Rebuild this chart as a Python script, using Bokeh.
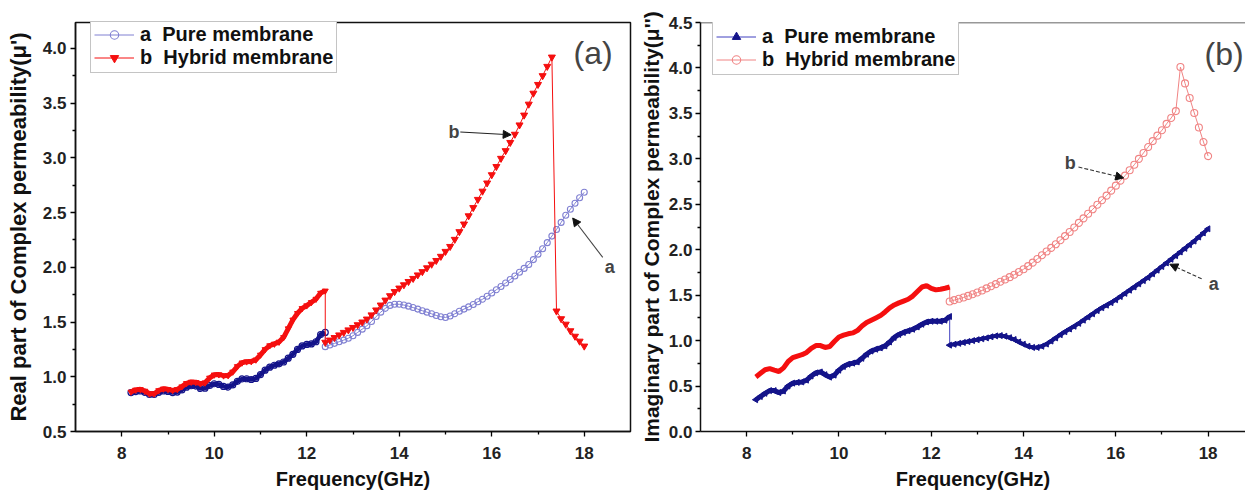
import numpy as np
from bokeh.plotting import figure
from bokeh.layouts import row
from bokeh.models import (Range1d, Legend, LegendItem, Arrow, NormalHead, Span,
                          Label, FixedTicker, PrintfTickFormatter)
from bokeh.embed import file_html
from bokeh.resources import INLINE

# ---------------- data ----------------
FREQ_X = [8.2, 8.3, 8.4, 8.5, 8.6, 8.7, 8.8, 8.9, 9.0, 9.1,
          9.2, 9.3, 9.4, 9.5, 9.6, 9.7, 9.8, 9.9, 10.0, 10.1,
          10.2, 10.3, 10.4, 10.5, 10.6, 10.7, 10.8, 10.9, 11.0, 11.1,
          11.2, 11.3, 11.4, 11.5, 11.6, 11.7, 11.8, 11.9, 12.0, 12.1,
          12.2, 12.3, 12.4]
FREQ_KU = [12.4, 12.5, 12.6, 12.7, 12.8, 12.9, 13.0, 13.1, 13.2, 13.3,
           13.4, 13.5, 13.6, 13.7, 13.8, 13.9, 14.0, 14.1, 14.2, 14.3,
           14.4, 14.5, 14.6, 14.7, 14.8, 14.9, 15.0, 15.1, 15.2, 15.3,
           15.4, 15.5, 15.6, 15.7, 15.8, 15.9, 16.0, 16.1, 16.2, 16.3,
           16.4, 16.5, 16.6, 16.7, 16.8, 16.9, 17.0, 17.1, 17.2, 17.3,
           17.4, 17.5, 17.6, 17.7, 17.8, 17.9, 18.0]

# (a) real part
real_pure_x = [0.856, 0.865, 0.870, 0.858, 0.838, 0.838, 0.858, 0.870, 0.866, 0.856,
               0.860, 0.880, 0.905, 0.918, 0.915, 0.893, 0.895, 0.920, 0.936, 0.930,
               0.912, 0.906, 0.925, 0.958, 0.980, 0.982, 0.975, 0.985, 1.020, 1.060,
               1.088, 1.105, 1.118, 1.135, 1.170, 1.205, 1.250, 1.282, 1.295, 1.300,
               1.320, 1.385, 1.405]
real_pure_ku = [1.275, 1.290, 1.305, 1.320, 1.335, 1.352, 1.375, 1.405, 1.435, 1.466,
                1.505, 1.550, 1.590, 1.625, 1.652, 1.662, 1.662, 1.655, 1.645, 1.632,
                1.618, 1.603, 1.590, 1.575, 1.560, 1.548, 1.542, 1.555, 1.575, 1.598,
                1.618, 1.638, 1.660, 1.685, 1.708, 1.735, 1.765, 1.795, 1.825, 1.856,
                1.888, 1.920, 1.955, 1.990, 2.025, 2.070, 2.120, 2.170, 2.225, 2.285,
                2.345, 2.410, 2.475, 2.530, 2.585, 2.635, 2.685]
real_hyb_x = [0.862, 0.880, 0.885, 0.870, 0.845, 0.845, 0.875, 0.890, 0.885, 0.876,
              0.885, 0.910, 0.940, 0.952, 0.950, 0.937, 0.945, 0.990, 1.018, 1.020,
              1.010, 1.012, 1.045, 1.095, 1.128, 1.138, 1.140, 1.155, 1.200, 1.250,
              1.285, 1.300, 1.318, 1.360, 1.440, 1.520, 1.580, 1.625, 1.650, 1.680,
              1.710, 1.765, 1.785]
real_hyb_ku = [1.315, 1.335, 1.358, 1.382, 1.405, 1.428, 1.450, 1.475, 1.500, 1.527,
               1.565, 1.610, 1.655, 1.700, 1.740, 1.778, 1.810, 1.840, 1.870, 1.898,
               1.930, 1.960, 1.995, 2.028, 2.062, 2.100, 2.145, 2.190, 2.255, 2.325,
               2.395, 2.470, 2.545, 2.620, 2.695, 2.770, 2.845, 2.920, 2.995, 3.065,
               3.140, 3.215, 3.300, 3.390, 3.490, 3.590, 3.670, 3.750, 3.835, 3.920,
               1.600, 1.530, 1.480, 1.420, 1.370, 1.325, 1.280]

# (b) imaginary part
imag_pure_x = [0.350, 0.385, 0.420, 0.450, 0.450, 0.428, 0.445, 0.500, 0.532, 0.540,
               0.545, 0.565, 0.610, 0.645, 0.655, 0.625, 0.598, 0.620, 0.675, 0.715,
               0.740, 0.752, 0.765, 0.805, 0.850, 0.885, 0.905, 0.920, 0.942, 0.985,
               1.035, 1.068, 1.090, 1.108, 1.125, 1.150, 1.180, 1.205, 1.213, 1.213,
               1.213, 1.225, 1.265]
imag_pure_ku = [0.950, 0.960, 0.970, 0.980, 0.990, 1.000, 1.010, 1.020, 1.030, 1.042,
                1.052, 1.055, 1.048, 1.032, 1.012, 0.985, 0.960, 0.938, 0.925, 0.925,
                0.938, 0.962, 0.995, 1.030, 1.065, 1.098, 1.128, 1.158, 1.190, 1.225,
                1.260, 1.295, 1.330, 1.362, 1.390, 1.418, 1.450, 1.485, 1.520, 1.555,
                1.590, 1.625, 1.660, 1.695, 1.735, 1.775, 1.815, 1.855, 1.895, 1.935,
                1.975, 2.015, 2.055, 2.095, 2.140, 2.185, 2.230]
imag_hyb_x = [0.600, 0.640, 0.680, 0.692, 0.675, 0.660, 0.700, 0.770, 0.812, 0.830,
              0.845, 0.870, 0.915, 0.945, 0.945, 0.925, 0.935, 0.990, 1.040, 1.060,
              1.075, 1.085, 1.110, 1.160, 1.200, 1.225, 1.250, 1.275, 1.315, 1.360,
              1.392, 1.415, 1.435, 1.455, 1.490, 1.540, 1.590, 1.605, 1.575, 1.558,
              1.565, 1.576, 1.590]
imag_hyb_ku = [1.430, 1.445, 1.460, 1.475, 1.492, 1.510, 1.530, 1.552, 1.575, 1.598,
               1.622, 1.648, 1.672, 1.698, 1.725, 1.755, 1.785, 1.820, 1.858, 1.898,
               1.940, 1.980, 2.020, 2.060, 2.105, 2.150, 2.195, 2.245, 2.295, 2.345,
               2.395, 2.445, 2.495, 2.545, 2.595, 2.650, 2.705, 2.760, 2.815, 2.875,
               2.935, 3.000, 3.065, 3.130, 3.195, 3.255, 3.315, 3.385, 3.450, 3.525,
               4.010, 3.830, 3.670, 3.505, 3.345, 3.185, 3.030]

X_TICKS = [8, 10, 12, 14, 16, 18]
X_MINOR = [9, 11, 13, 15, 17]
Y_TICKS_A = [0.5, 1.0, 1.5, 2.0, 2.5, 3.0, 3.5, 4.0]
Y_MINOR_A = [0.75, 1.25, 1.75, 2.25, 2.75, 3.25, 3.75]
Y_TICKS_B = [0.0, 0.5, 1.0, 1.5, 2.0, 2.5, 3.0, 3.5, 4.0, 4.5]
Y_MINOR_B = [0.25, 0.75, 1.25, 1.75, 2.25, 2.75, 3.25, 3.75, 4.25]

LABEL_A = "a  Pure membrane"
LABEL_B = "b  Hybrid membrane"
X_TITLE = "Frequency(GHz)"
Y_TITLE_A = "Real part of Complex permeability(\u03bc')"
Y_TITLE_B = "Imaginary part of Complex permeability(\u03bc'')"

FONT = "Liberation Sans"
NAVY = "#14148a"
LILAC = "#8080d2"
RED = "#f50f0f"
PINK = "#f08484"


def style_axes(p, yt, ym, ytitle, lab_stand, title_stand, ytitle_size):
    for ax in (p.xaxis[0], p.yaxis[0]):
        ax.axis_line_width = 1.5
        ax.axis_line_color = "#111111"
        ax.major_tick_line_width = 1.3
        ax.minor_tick_line_width = 1.3
        ax.major_tick_out = 5
        ax.major_tick_in = 0
        ax.minor_tick_out = 3
        ax.minor_tick_in = 0
        ax.major_label_text_font = FONT
        ax.major_label_text_font_style = "bold"
        ax.major_label_text_font_size = "17px"
        ax.major_label_text_color = "#222222"
        ax.axis_label_text_font = FONT
        ax.axis_label_text_font_style = "bold"
        ax.axis_label_text_color = "#111111"
    p.xaxis[0].ticker = FixedTicker(ticks=X_TICKS, minor_ticks=X_MINOR)
    p.xaxis[0].axis_label = X_TITLE
    p.xaxis[0].axis_label_text_font_size = "20px"
    p.xaxis[0].major_label_standoff = 10
    p.xaxis[0].axis_label_standoff = 6
    p.yaxis[0].ticker = FixedTicker(ticks=yt, minor_ticks=ym)
    p.yaxis[0].formatter = PrintfTickFormatter(format="%.1f")
    p.yaxis[0].axis_label = ytitle
    p.yaxis[0].axis_label_text_font_size = ytitle_size
    p.yaxis[0].major_label_standoff = lab_stand
    p.yaxis[0].axis_label_standoff = title_stand
    p.grid.visible = False


def make_legend(p, items, loc):
    leg = Legend(items=items, location=loc, orientation="vertical")
    leg.label_text_font = FONT
    leg.label_text_font_style = "bold"
    leg.label_text_font_size = "20px"
    leg.label_text_color = "#111111"
    leg.glyph_width = 40
    leg.glyph_height = 21
    leg.label_height = 21
    leg.label_standoff = 6
    leg.spacing = 0
    leg.padding = 3
    leg.margin = 0
    leg.border_line_color = "#8a8a8a"
    leg.border_line_width = 1.2
    leg.background_fill_color = "white"
    leg.background_fill_alpha = 1.0
    p.add_layout(leg)


# ---------------- panel (a) ----------------
pa = figure(width=636, height=492, x_range=Range1d(7, 19), y_range=Range1d(0.5, 4.236),
            output_backend="svg", toolbar_location=None,
            min_border_left=75, min_border_right=6, min_border_top=22, min_border_bottom=59,
            background_fill_color="white", border_fill_color="white")
pa.outline_line_color = "#111111"
pa.outline_line_width = 1.5
style_axes(pa, Y_TICKS_A, Y_MINOR_A, Y_TITLE_A, 4, 9, "22px")

# pure membrane (a)
la_thin = pa.line(FREQ_X + FREQ_KU, real_pure_x + real_pure_ku, line_color=LILAC, line_width=1)
pa.line(FREQ_X, real_pure_x, line_color=NAVY, line_width=4.5)
pa.scatter(FREQ_X, real_pure_x, marker="circle", size=6, line_color=NAVY, fill_color=None, line_width=1.2)
la_mk = pa.scatter(FREQ_KU, real_pure_ku, marker="circle", size=6, line_color=LILAC,
                   fill_color="white", fill_alpha=0.0, line_width=1.1)
# hybrid membrane (b)
lb_thin = pa.line(FREQ_X + FREQ_KU, real_hyb_x + real_hyb_ku, line_color=RED, line_width=1)
pa.line(FREQ_X, real_hyb_x, line_color=RED, line_width=5)
lb_mk = pa.scatter(FREQ_KU, real_hyb_ku, marker="inverted_triangle", size=7, line_color=RED,
                   fill_color=RED, line_width=1)
pa.scatter(FREQ_X, real_hyb_x, marker="inverted_triangle", size=6, line_color=RED, fill_color=RED)

make_legend(pa, [LegendItem(label=LABEL_A, renderers=[la_thin, la_mk]),
                 LegendItem(label=LABEL_B, renderers=[lb_thin, lb_mk])], (15, 358))

pa.add_layout(Arrow(end=NormalHead(size=8, fill_color="#111111", line_color="#111111", line_width=1),
                    x_start=15.32, y_start=3.236, x_end=16.42, y_end=3.21,
                    line_color="#222222", line_width=1.1))
pa.add_layout(Label(x=15.30, y=3.236, text="b", text_font=FONT, text_font_style="bold",
                    text_font_size="18px", text_align="right", text_baseline="middle"))
pa.add_layout(Arrow(end=NormalHead(size=8, fill_color="#111111", line_color="#111111", line_width=1),
                    x_start=18.40, y_start=2.09, x_end=17.75, y_end=2.45,
                    line_color="#444444", line_width=1.1))
pa.add_layout(Label(x=18.55, y=2.0, text="a", text_font=FONT, text_font_style="bold",
                    text_font_size="18px", text_align="center", text_baseline="middle"))
pa.add_layout(Label(x=18.19, y=3.96, text="(a)", text_font=FONT, text_font_size="32px",
                    text_align="center", text_baseline="middle"))

# ---------------- panel (b) ----------------
pb = figure(width=609, height=492, x_range=Range1d(7, 18.81), y_range=Range1d(0.0, 4.5),
            output_backend="svg", toolbar_location=None,
            min_border_left=62, min_border_right=0, min_border_top=20, min_border_bottom=59,
            background_fill_color="white", border_fill_color="white")
pb.outline_line_color = None
style_axes(pb, Y_TICKS_B, Y_MINOR_B, Y_TITLE_B, 3, 3, "21px")
pb.add_layout(Span(location=4.5, dimension="width", line_color="#333333", line_width=1.5))

# pure membrane (a)
ra_thin = pb.line(FREQ_X + FREQ_KU, imag_pure_x + imag_pure_ku, line_color="#4040c0", line_width=1)
pb.line(FREQ_X, imag_pure_x, line_color=NAVY, line_width=5)
pb.line(FREQ_KU, imag_pure_ku, line_color=NAVY, line_width=4)
ra_mk = pb.scatter(FREQ_KU, imag_pure_ku, marker="triangle", angle=np.pi / 2, angle_units="rad",
                   size=6, line_color=NAVY, fill_color=NAVY)
pb.scatter(FREQ_X, imag_pure_x, marker="triangle", angle=np.pi / 2, angle_units="rad", size=6,
           line_color=NAVY, fill_color=NAVY)
# hybrid membrane (b)
rb_thin = pb.line(FREQ_X + FREQ_KU, imag_hyb_x + imag_hyb_ku, line_color=PINK, line_width=1)
pb.line(FREQ_X, imag_hyb_x, line_color=RED, line_width=5)
rb_mk = pb.scatter(FREQ_KU, imag_hyb_ku, marker="circle", size=7, line_color=PINK,
                   fill_color="white", fill_alpha=0.0, line_width=1.1)

make_legend(pb, [LegendItem(label=LABEL_A, renderers=[ra_thin, ra_mk]),
                 LegendItem(label=LABEL_B, renderers=[rb_thin, rb_mk])], (12, 356))

pb.add_layout(Arrow(end=NormalHead(size=8, fill_color="#111111", line_color="#111111", line_width=1),
                    x_start=15.19, y_start=2.91, x_end=16.17, y_end=2.79,
                    line_color="#333333", line_width=1.1, line_dash="4 2"))
pb.add_layout(Label(x=15.13, y=2.95, text="b", text_font=FONT, text_font_style="bold",
                    text_font_size="18px", text_align="right", text_baseline="middle"))
pb.add_layout(Arrow(end=NormalHead(size=8, fill_color="#111111", line_color="#111111", line_width=1),
                    x_start=17.86, y_start=1.68, x_end=17.17, y_end=1.84,
                    line_color="#333333", line_width=1.1, line_dash="4 2"))
pb.add_layout(Label(x=18.12, y=1.62, text="a", text_font=FONT, text_font_style="bold",
                    text_font_size="18px", text_align="center", text_baseline="middle"))
pb.add_layout(Label(x=18.77, y=4.15, text="(b)", text_font=FONT, text_font_size="32px",
                    text_align="right", text_baseline="middle"))

layout = row(pa, pb, spacing=0)
open("out.html", "w").write(file_html(layout, INLINE))
